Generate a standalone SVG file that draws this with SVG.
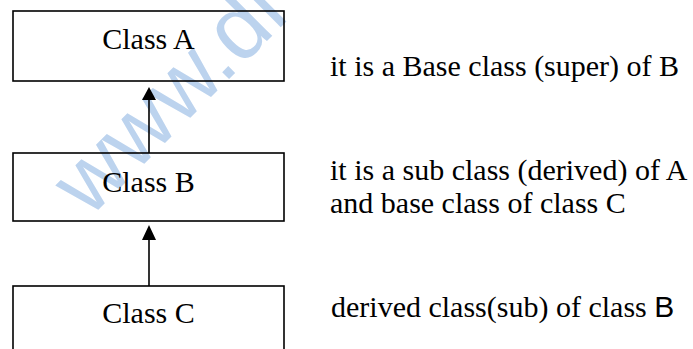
<svg xmlns="http://www.w3.org/2000/svg" width="693" height="349" viewBox="0 0 693 349">
<style>
.box{fill:none;stroke:#000;stroke-width:1.6}
.lbl{font-family:"Liberation Serif","Times New Roman",serif;font-size:30px;fill:#000}
.conn{stroke:#000;stroke-width:1.6;fill:none}
.head{fill:#000}
.wm{font-family:"Liberation Sans",Arial,sans-serif;font-size:90px;fill:#bcd3ee}
</style>
<rect width="693" height="349" fill="#fff"/>
<text class="wm" transform="translate(89,219) rotate(-45)">www.dl</text>
<g id="classA">
<rect class="box" x="13" y="11" width="271" height="70"/>
<text class="lbl" x="148.5" y="49" text-anchor="middle">Class A</text>
</g>
<g id="classB">
<rect class="box" x="13" y="153" width="271" height="68"/>
<text class="lbl" x="148.5" y="192" text-anchor="middle">Class B</text>
</g>
<g id="classC">
<rect class="box" x="13" y="286" width="271" height="80"/>
<text class="lbl" x="148.5" y="323" text-anchor="middle">Class C</text>
</g>
<g id="connectors">
<line class="conn" x1="149" y1="153" x2="149" y2="99"/>
<polygon class="head" points="149,87 156,100 142,100"/>
<line class="conn" x1="149" y1="286" x2="149" y2="239"/>
<polygon class="head" points="149,225 156,240 142,240"/>
</g>
<g id="notes">
<text class="lbl" x="330" y="76">it is a Base class (super) of B</text>
<text class="lbl" x="330" y="180">it is a sub class (derived) of A</text>
<text class="lbl" x="330" y="213">and base class of class C</text>
<text class="lbl" x="331" y="317">derived class(sub) of class <tspan font-family="'Liberation Sans',Arial,sans-serif">B</tspan></text>
</g>
</svg>
